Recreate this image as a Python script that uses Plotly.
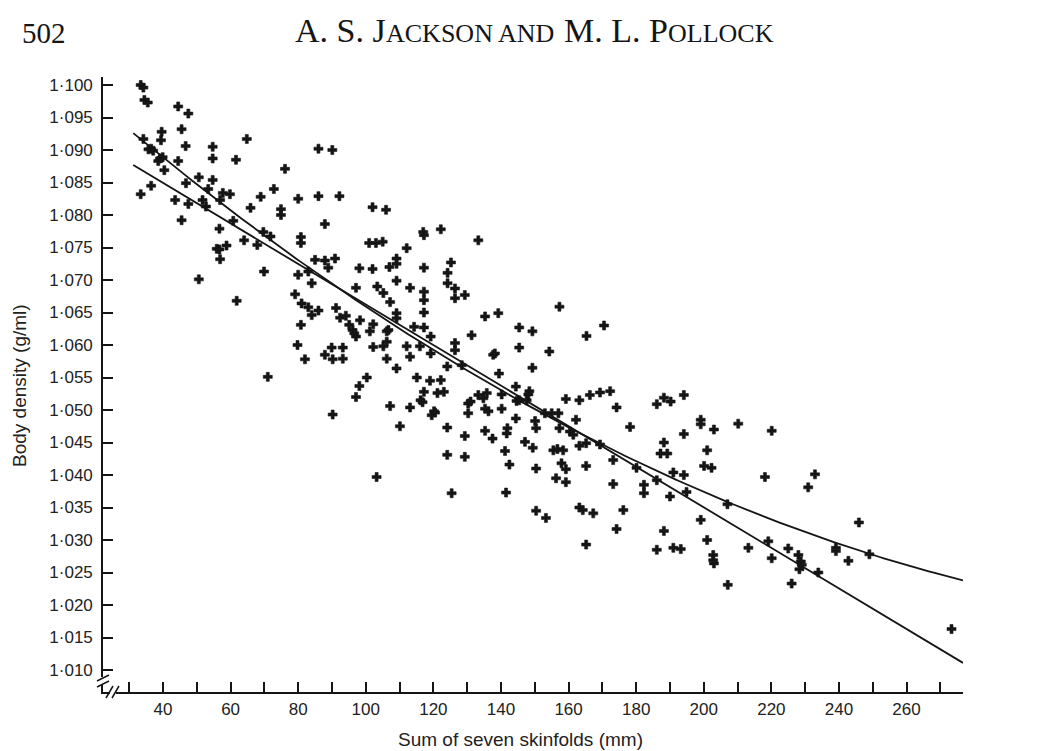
import numpy as np
import plotly.graph_objects as go

# ---------------- data ----------------
skinfold_sum = [
    # upper-left cluster
    33.4, 34.2, 34.5, 35.5, 44.5, 47.5, 39.6, 39.4, 45.5, 34.2, 35.7, 36.5, 37.1, 39.1, 39.9, 38.6,
    46.7, 54.7, 54.7, 61.6, 64.8, 44.5, 40.4, 50.6, 54.7, 46.8, 36.5, 33.4, 43.6, 47.5, 53.4, 51.7,
    52.7, 57.7, 59.8, 56.9, 60.8, 45.5, 65.9, 68.9, 72.8, 76.1, 74.9, 74.9, 80.0, 86.0, 86.0, 56.7,
    55.9, 56.7, 56.9, 58.8, 64.0, 67.9, 69.7, 71.8, 80.8, 80.8, 85.0, 69.9, 80.0, 83.0, 50.6, 84.0,
    # upper-middle
    90.1, 92.2, 87.9, 102.0, 106.0, 117.0, 117.2, 122.2, 133.3, 101.0, 103.0, 105.0, 112.1, 87.9,
    88.9, 90.9, 98.1, 102.0, 107.0, 109.1, 109.1, 117.2, 125.2, 124.2, 109.1, 124.2,
    # left-middle
    61.8, 71.0, 79.1, 81.0, 83.0, 84.0, 86.0, 80.8, 79.8, 82.0,
    # centre
    97.1, 103.4, 105.2, 113.1, 117.2, 117.2, 126.4, 126.4, 129.3, 91.2, 92.4, 94.1, 95.1, 96.1,
    96.6, 97.1, 98.3, 101.2, 102.2, 106.7, 106.2, 109.1, 109.1, 107.2, 114.3, 117.2, 117.2, 119.2,
    112.1, 105.2, 106.2, 102.2, 106.2, 109.1, 113.1, 116.0, 119.2, 126.4, 126.4, 124.1, 128.4,
    131.3, 135.3, 139.2, 145.4, 149.3, 145.4, 137.7, 138.2, 139.4, 149.3, 89.9, 93.2, 87.9, 90.2,
    93.2, 100.3, 98.1, 97.1, 90.2, 107.2, 113.1, 115.1, 119.0, 122.2, 117.2, 121.2, 123.1, 116.2,
    116.8, 120.2, 119.5, 120.5, 110.1, 124.1, 130.3, 131.0, 130.3, 133.3, 134.8, 135.8, 135.3,
    136.3, 140.2, 140.2, 144.4, 148.4, 148.1, 144.6, 145.4, 147.6, 144.4, 150.1, 150.4, 135.3,
    137.5, 129.3, 141.9, 141.7, 141.2, 147.1, 149.4, 124.1, 129.3, 142.5, 150.4, 103.2, 125.4,
    141.5,
    # centre-right
    157.3, 165.3, 170.5, 154.3, 159.2, 163.2, 166.3, 169.3, 172.3, 174.2, 178.2, 186.1, 188.2,
    190.2, 194.1, 199.1, 199.1, 203.0, 210.2, 194.1, 188.2, 187.2, 189.2, 201.0, 200.1, 202.3,
    191.0, 194.1, 153.0, 155.0, 157.0, 162.2, 157.3, 160.4, 161.4, 163.2, 165.2, 169.3, 155.5,
    156.7, 158.4, 157.9, 159.2, 165.2, 173.2, 180.1, 186.1, 156.3, 159.2, 173.2, 182.3, 182.3,
    194.9,
    # right
    220.1, 218.1, 232.9, 230.9,
    # lower-middle and lower-right
    150.4, 153.3, 163.2, 164.2, 167.3, 165.2, 176.2, 174.2, 190.0, 188.2, 186.1, 191.0, 193.2,
    199.1, 201.0, 202.8, 202.8, 203.0, 207.0, 213.2, 207.1,
    219.1, 220.1, 225.0, 228.0, 228.7, 228.3, 229.0, 226.0, 233.9, 239.1, 239.1, 242.8, 245.9,
    249.0, 273.3,
]

body_density = [
    1.1000, 1.0996, 1.0977, 1.0973, 1.0967, 1.0956, 1.0928, 1.0915, 1.0932, 1.0917, 1.0901, 1.0902,
    1.0899, 1.0887, 1.0889, 1.0883, 1.0906, 1.0905, 1.0887, 1.0885, 1.0917, 1.0883, 1.0869, 1.0858,
    1.0854, 1.0849, 1.0845, 1.0832, 1.0823, 1.0817, 1.0840, 1.0823, 1.0813, 1.0834, 1.0832, 1.0823,
    1.0791, 1.0792, 1.0811, 1.0828, 1.0840, 1.0871, 1.0809, 1.0800, 1.0825, 1.0902, 1.0829, 1.0779,
    1.0748, 1.0747, 1.0732, 1.0753, 1.0761, 1.0754, 1.0774, 1.0767, 1.0766, 1.0757, 1.0731, 1.0713,
    1.0708, 1.0713, 1.0701, 1.0695,
    1.0900, 1.0829, 1.0786, 1.0812, 1.0808, 1.0774, 1.0769, 1.0778, 1.0761, 1.0757, 1.0757, 1.0759,
    1.0749, 1.0730, 1.0719, 1.0733, 1.0718, 1.0717, 1.0720, 1.0733, 1.0725, 1.0719, 1.0727, 1.0711,
    1.0699, 1.0695,
    1.0668, 1.0551, 1.0678, 1.0664, 1.0658, 1.0646, 1.0653, 1.0631, 1.0600, 1.0578,
    1.0688, 1.0690, 1.0680, 1.0688, 1.0682, 1.0669, 1.0687, 1.0672, 1.0677, 1.0657, 1.0642, 1.0645,
    1.0631, 1.0623, 1.0618, 1.0613, 1.0638, 1.0621, 1.0632, 1.0623, 1.0621, 1.0649, 1.0641, 1.0666,
    1.0628, 1.0650, 1.0627, 1.0613, 1.0598, 1.0598, 1.0605, 1.0597, 1.0579, 1.0564, 1.0582, 1.0598,
    1.0587, 1.0603, 1.0592, 1.0567, 1.0569, 1.0615, 1.0644, 1.0649, 1.0627, 1.0621, 1.0596, 1.0585,
    1.0587, 1.0556, 1.0565, 1.0596, 1.0596, 1.0585, 1.0578, 1.0579, 1.0550, 1.0537, 1.0520, 1.0493,
    1.0506, 1.0504, 1.0550, 1.0545, 1.0546, 1.0528, 1.0526, 1.0528, 1.0515, 1.0512, 1.0498, 1.0492,
    1.0496, 1.0475, 1.0473, 1.0510, 1.0513, 1.0495, 1.0523, 1.0518, 1.0526, 1.0502, 1.0498, 1.0502,
    1.0524, 1.0536, 1.0529, 1.0524, 1.0514, 1.0515, 1.0515, 1.0487, 1.0483, 1.0472, 1.0468, 1.0456,
    1.0460, 1.0472, 1.0464, 1.0437, 1.0451, 1.0442, 1.0431, 1.0428, 1.0416, 1.0410, 1.0397, 1.0372,
    1.0373,
    1.0659, 1.0614, 1.0630, 1.0590, 1.0517, 1.0515, 1.0523, 1.0527, 1.0529, 1.0504, 1.0474, 1.0509,
    1.0519, 1.0513, 1.0523, 1.0485, 1.0478, 1.0470, 1.0479, 1.0463, 1.0450, 1.0433, 1.0433, 1.0438,
    1.0414, 1.0411, 1.0404, 1.0400, 1.0495, 1.0495, 1.0495, 1.0485, 1.0472, 1.0467, 1.0462, 1.0445,
    1.0449, 1.0447, 1.0438, 1.0440, 1.0438, 1.0418, 1.0409, 1.0414, 1.0423, 1.0411, 1.0392, 1.0395,
    1.0389, 1.0386, 1.0385, 1.0372, 1.0374,
    1.0468, 1.0397, 1.0401, 1.0381,
    1.0345, 1.0334, 1.0350, 1.0346, 1.0341, 1.0293, 1.0346, 1.0317, 1.0367, 1.0314, 1.0285, 1.0288,
    1.0286, 1.0331, 1.0300, 1.0277, 1.0269, 1.0264, 1.0355, 1.0288, 1.0231,
    1.0298, 1.0272, 1.0287, 1.0277, 1.0267, 1.0255, 1.0262, 1.0233, 1.0250, 1.0288, 1.0283, 1.0268,
    1.0327, 1.0278, 1.0163,
]

# regression lines (coefficients)
linear_coef = [1.09743, -0.000312]                 # intercept, slope
quadratic_coef = [1.10661, -0.00046807, 6.1e-7]    # c0, c1, c2
fit_x_range = [31.2, 276.7]

x_tick_vals = [30, 40, 50, 60, 70, 80, 90, 100, 110, 120, 130, 140, 150, 160, 170, 180, 190,
               200, 210, 220, 230, 240, 250, 260, 270]
x_tick_text = ["", "40", "", "60", "", "80", "", "100", "", "120", "", "140", "", "160", "",
               "180", "", "200", "", "220", "", "240", "", "260", ""]
y_tick_vals = [1.010, 1.015, 1.020, 1.025, 1.030, 1.035, 1.040, 1.045, 1.050, 1.055, 1.060,
               1.065, 1.070, 1.075, 1.080, 1.085, 1.090, 1.095, 1.100]
y_tick_text = ["1·010", "1·015", "1·020", "1·025", "1·030", "1·035", "1·040", "1·045", "1·050",
               "1·055", "1·060", "1·065", "1·070", "1·075", "1·080", "1·085", "1·090", "1·095",
               "1·100"]

# running head, split into large and small capitals
header_parts = ["A. S. J", "ACKSON AND", "M. L. P", "OLLOCK"]

# ---------------- figure ----------------
# the page body adds an 8 px offset, so the figure is laid out 8 px smaller
OFF = 8
W, H = 1037 - OFF, 751 - OFF
L, R, T, B = 95, 74, 69, 59
INK = "#151515"
SANS = "Liberation Sans, Arial, sans-serif"
SERIF = "Liberation Serif, Times New Roman, serif"

def px(xs):
    return (xs - OFF - L) / (W - L - R)

def py(ys):
    return (H - B - (ys - OFF)) / (H - T - B)

fx = np.linspace(fit_x_range[0], fit_x_range[1], 200)
lin_y = linear_coef[0] + linear_coef[1] * fx
quad_y = quadratic_coef[0] + quadratic_coef[1] * fx + quadratic_coef[2] * fx ** 2

fig = go.Figure()
fig.add_trace(go.Scatter(x=fx, y=lin_y, mode="lines", line=dict(color=INK, width=1.8),
                         hoverinfo="skip", showlegend=False))
fig.add_trace(go.Scatter(x=fx, y=quad_y, mode="lines", line=dict(color=INK, width=1.8),
                         hoverinfo="skip", showlegend=False))
fig.add_trace(go.Scatter(x=skinfold_sum, y=body_density, mode="markers",
                         marker=dict(symbol="cross", size=7.5, color=INK,
                                     line=dict(color=INK, width=0.6)),
                         showlegend=False))

axis_common = dict(showline=True, linecolor=INK, linewidth=1.6, ticks="inside", ticklen=10,
                   tickwidth=1.6, tickcolor=INK, showgrid=False, zeroline=False,
                   tickfont=dict(family=SANS, size=17, color="#222"), mirror=False)

fig.update_layout(
    width=W, height=H,
    margin=dict(l=L, r=R, t=T, b=B, autoexpand=False),
    paper_bgcolor="white", plot_bgcolor="white",
    xaxis=dict(range=[22.25, 276.7], tickmode="array", tickvals=x_tick_vals,
               ticktext=x_tick_text, ticklabelstandoff=1, **axis_common),
    yaxis=dict(range=[1.00662, 1.10123], tickmode="array", tickvals=y_tick_vals,
               ticktext=y_tick_text, ticklabelstandoff=5, **axis_common),
    hovermode=False,
)

# axis break marks near the origin
shapes = []
shapes.append(dict(type="rect", xref="paper", yref="paper", x0=px(100), x1=px(106),
                   y0=py(684), y1=py(677), fillcolor="white", line=dict(width=0), layer="above"))
for d in (0, 6):
    shapes.append(dict(type="line", xref="paper", yref="paper", x0=px(97), y0=py(681 + d),
                       x1=px(109), y1=py(675 + d), line=dict(color=INK, width=1.5), layer="above"))
shapes.append(dict(type="rect", xref="paper", yref="paper", x0=px(110), x1=px(116),
                   y0=py(695), y1=py(689), fillcolor="white", line=dict(width=0), layer="above"))
for d in (0, 6):
    shapes.append(dict(type="line", xref="paper", yref="paper", x0=px(106 + d), y0=py(698),
                       x1=px(113 + d), y1=py(686), line=dict(color=INK, width=1.5), layer="above"))
fig.update_layout(shapes=shapes)

annotations = [
    dict(text="502", x=px(20), y=py(33), xref="paper", yref="paper", xanchor="left",
         yanchor="middle", showarrow=False, font=dict(family=SERIF, size=29, color=INK)),
    dict(text="Body density (g/ml)", x=px(19), y=py(386), xref="paper", yref="paper",
         xanchor="center", yanchor="middle", textangle=-90, showarrow=False,
         font=dict(family=SANS, size=19, color="#222")),
    dict(text="Sum of seven skinfolds (mm)", x=px(520), y=py(739), xref="paper", yref="paper",
         xanchor="center", yanchor="middle", showarrow=False,
         font=dict(family=SANS, size=19, color="#222")),
]
# header pieces: (left x in px, top y in px, font size) - baselines aligned
head_pos = [(294, 11, 34), (385, 18, 26), (563, 11, 34), (667, 18, 26)]
for txt, (hx, hy, fs) in zip(header_parts, head_pos):
    annotations.append(dict(text=txt, x=px(hx), y=py(hy), xref="paper", yref="paper",
                            xanchor="left", yanchor="top", showarrow=False, borderpad=0,
                            font=dict(family=SERIF, size=fs, color=INK)))
fig.update_layout(annotations=annotations)

fig.write_html("out.html", config={"displayModeBar": False})
